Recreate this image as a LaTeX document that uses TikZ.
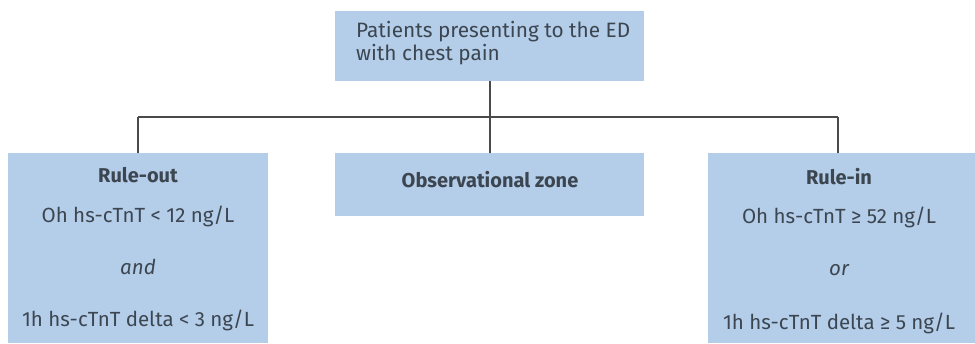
\documentclass[tikz,border=0pt]{standalone}
\usepackage{fontspec}
\setmainfont{Fira Sans}
\definecolor{boxblue}{HTML}{B4CDE9}
\definecolor{txt}{HTML}{3C4650}
\definecolor{lin}{HTML}{4A4A4A}
\begin{document}
\begin{tikzpicture}[x=1pt,y=-1pt,
  bx/.style={fill=boxblue,draw=none,inner sep=0pt,anchor=north west},
  tx/.style={text=txt,font=\fontsize{20.5}{23}\selectfont,inner sep=0pt},
  conn/.style={draw=lin,line width=1.6pt}]
\useasboundingbox (0,0) rectangle (975,343);
% boxes
\node[bx,minimum width=309pt,minimum height=70pt] (top) at (335,11) {};
\node[bx,minimum width=260pt,minimum height=190pt] (left) at (8,153) {};
\node[bx,minimum width=309pt,minimum height=63pt] (mid) at (335,153) {};
\node[bx,minimum width=267pt,minimum height=190pt] (right) at (708,153) {};
% texts
\node[tx,anchor=west,align=left,font=\fontsize{20.8}{23}\selectfont] (toptext) at (356,43) {Patients presenting to the ED\\with chest pain};
\node[tx,font=\fontsize{20}{23}\selectfont\bfseries] (ro) at (138,175) {Rule-out};
\node[tx] (ro1) at (138,216) {Oh hs-cTnT < 12 ng/L};
\node[tx,font=\fontsize{20.5}{23}\selectfont\itshape] (ro2) at (138,267) {and};
\node[tx] (ro3) at (138,320) {1h hs-cTnT delta < 3 ng/L};
\node[tx,font=\fontsize{20}{23}\selectfont\bfseries] (obs) at (490,180) {Observational zone};
\node[tx,font=\fontsize{20}{23}\selectfont\bfseries] (ri) at (839,177) {Rule-in};
\node[tx] (ri1) at (839,217) {Oh hs-cTnT ≥ 52 ng/L};
\node[tx,font=\fontsize{20.5}{23}\selectfont\itshape] (ri2) at (839,270) {or};
\node[tx] (ri3) at (839,323) {1h hs-cTnT delta ≥ 5 ng/L};
% connectors
\coordinate (busL) at (138,117);
\coordinate (busR) at (838,117);
\draw[conn] (busL) -- (busR);
\draw[conn] (top.south) -- (mid.north);
\draw[conn] (busL) -- (busL |- left.north);
\draw[conn] (busR) -- (busR |- right.north);
\end{tikzpicture}
\end{document}
